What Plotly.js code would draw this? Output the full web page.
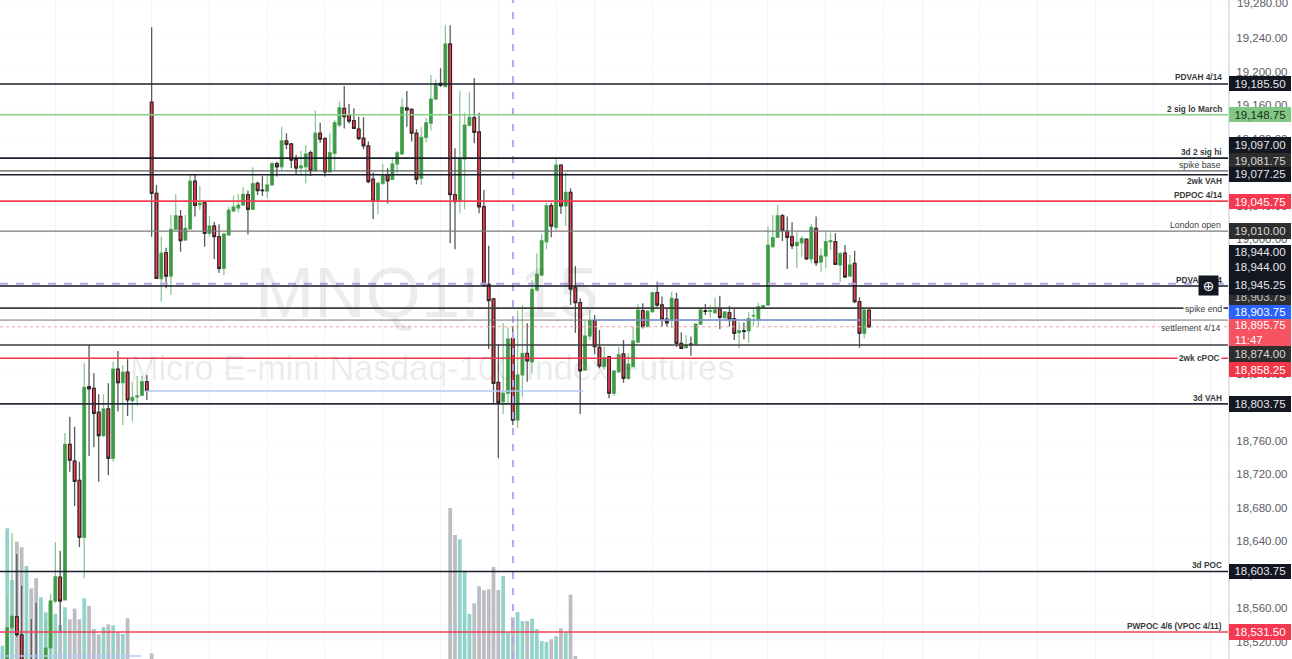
<!DOCTYPE html>
<html><head><meta charset="utf-8">
<script src="https://cdn.plot.ly/plotly-3.0.1.min.js"></script>
<style>html,body{margin:0;padding:0;background:#fff}#chart{width:1292px;height:659px}</style>
</head><body><div id="chart"></div>
<script>
const opens=[18474,18536.5,18549.75,18528,18474,18492,18485,18460,18480,18512.5,
18568.5,18597,18569.75,18755.5,18735.5,18712.5,18644.5,18824.25,18822.25,18793.75,
18765.75,18797.75,18738.75,18845.25,18829,18841.5,18807.5,18812,18814,18830.25,
19163.75,19055,18953.25,18984.25,18956.25,19012,19027.5,18999.25,19012.5,19069.5,
19041.5,19043.75,19007.25,19016,19003.25,18965.5,19005.25,19034,19037.5,19041,
19053.5,19036,19067,19058.75,19057.75,19065,19090.5,19086.75,19117.5,19114,
19095.25,19085.5,19086.75,19103.5,19082,19126.75,19120.25,19080.75,19102.75,19136.5,
19156.5,19148.25,19141.75,19131.75,19120.75,19111.5,19072,19045.75,19067,19077,
19071.75,19090,19102,19157,19155.25,19126.75,19073,19121.75,19138.75,19167.5,
19186.25,19182.25,19233.25,19053.5,19046.25,19096,19136.25,19145.25,19128.25,19039,
18946.5,18929,18829.5,18806.25,18816.5,18882,18784.5,18838.25,18864,18854,
18939.75,18957.5,18997.25,19040.25,19014.5,19088.75,19040,19056.25,18942.5,18924.5,
18844.25,18884.75,18903,18871.25,18848.25,18860,18816.5,18842,18863.25,18834.25,
18848.25,18877.5,18915,18896,18913.75,18936.5,18921.75,18905,18903.75,18928.5,
18876,18870.75,18875,18874.75,18898.75,18914.75,18914.25,18912.5,18917.25,18906.5,
18912.5,18905.5,18888.75,18891,18890.75,18908.5,18904.75,18918.25,18921.75,18991.25,
19002.5,19028.25,19010,19003.25,18992.5,18996,19000.25,18976.75,19013.25,18973,
18980.25,18997.25,18997.25,18969.5,18983.75,18956.25,18971.5,18925.75,18888,18915.5];
const highs=[18572,18649.5,18624.5,18586.75,18506.5,18547,18566.5,18495,18545,18577,
18638.5,18628.5,18769,18788.5,18776.5,18734.75,18852.25,18874,18840.25,18815.25,
18815.25,18828.25,18854,18866.75,18850,18857,18830.25,18837,18837,18838.25,
19253.25,19065,19003.25,18990,19029.25,19054.25,19035,19029.25,19078,19078,
19064,19045,19028,19021,19018,19007,19039,19052.25,19054.25,19062.25,
19058.25,19086,19069,19075.75,19077,19092.75,19092.75,19134.5,19126.75,19115.5,
19100.75,19105.5,19112.75,19106,19153.75,19139.25,19122.25,19126.75,19142.5,19164.5,
19183,19161.75,19156.5,19146.5,19145.75,19116.75,19079.75,19069,19090,19085,
19096.75,19105.5,19168.5,19177.25,19156.5,19131.5,19133.75,19145,19196.25,19191,
19204.25,19256.25,19255.5,19108.75,19177.5,19151.25,19176.25,19192.25,19151.25,19059,
18992.5,18930,18874.75,18900,18895.25,18897,18915,18921.75,18900,18951.5,
18983.5,19006.5,19043.75,19043.75,19095.75,19089.5,19079.75,19061,18968.25,18929.75,
18902.75,18915.75,18909.75,18892,18872,18860.75,18844.25,18872,18880,18864,
18896,18922.5,18923.75,18915.75,18937.5,18949.5,18931.75,18917.75,18937.5,18936.5,
18889.25,18886,18884,18899.5,18917.75,18923,18921.75,18930.5,18932.75,18914,
18920.5,18917.75,18901.75,18901,18913.75,18917.75,18924.5,18922,19015.25,19029.25,
19041,19030.25,19027.25,19020.5,19008.5,19004,19001,19018.5,19027.25,18989.5,
19008.5,19008,19007.25,18985,18993.25,18981.5,18986.5,18931,18917,18916.5];
const lows=[18450,18531.5,18525.5,18462.25,18462,18462,18450,18440,18470,18498,
18566,18532,18569,18722.75,18682,18633,18595.5,18741.5,18752,18710.75,
18764.25,18718.75,18734.75,18794.5,18778.5,18789.25,18782.5,18801.5,18813,18808.5,
19003.25,18952.75,18925.75,18941.75,18933.75,19011.25,18985.25,18998,19011.5,19027.25,
19035,18991.25,19003.25,18976.25,18960.25,18957.5,19004.75,19032,19032,19040.5,
19006,19035,19053,19051.75,19049,19064,19075,19083,19107.5,19085,
19077,19078,19067,19075.75,19081.5,19115.5,19075,19080,19083,19133.75,
19132.5,19138.5,19131.75,19118.75,19107.5,19067,19024.5,19030.25,19065,19043,
19071,19079,19100.75,19134.5,19116.75,19066,19065,19115.5,19129.75,19166.5,
19182.25,19182,18995.5,18988.25,19031.25,19036,19134.75,19114.75,19031.25,18944.5,
18869.25,18804.5,18738.75,18791.25,18804.5,18778.5,18774.5,18812.25,18830.25,18840.25,
18937.5,18956.25,18988.25,19002.5,19011.25,19030.25,19016,18921.75,18888.75,18791.75,
18843,18880,18863.25,18846.25,18844.25,18810.5,18813.5,18840.5,18829,18832.25,
18847.75,18876.5,18893.75,18895.5,18912.5,18919.75,18896,18896,18894.25,18871.5,
18869.25,18869.75,18861.25,18874,18897.75,18909.75,18906.5,18911.75,18892.75,18905.5,
18896,18880,18870,18880.75,18876.75,18896.75,18896,18917.5,18920.5,18991,
19001.75,18998,18964.75,18988.5,18965.5,18979.5,18975.5,18971.5,18968.25,18961.5,
18965.5,18987.25,18969.5,18949.5,18954,18955.25,18923.75,18870.75,18882,18894.5];
const closes=[18536.5,18550.5,18528.25,18486,18492,18474,18460,18480,18512.5,18568.5,
18597.5,18568.5,18755.5,18736.5,18711.25,18644.5,18823.5,18821.75,18792.5,18765.75,
18797.75,18738.75,18845.25,18829,18841.5,18808.5,18811.5,18813.25,18830.25,18819.5,
19055,18953.5,18983.5,18956.25,19012,19028.25,18998.5,19013.25,19069.5,19040.75,
19043,19007.25,19016,19003.25,18965.5,19006.5,19035,19038.75,19041,19053.75,
19036,19066.5,19058.25,19058.25,19065,19090.5,19086.75,19117.75,19113.5,19094.75,
19085.25,19087.75,19102,19082,19126.75,19119.75,19080.75,19103.5,19139.25,19157.25,
19146.5,19141.25,19132.5,19120.25,19111.75,19069,19045.75,19067,19076,19070,
19090,19103.5,19157.75,19154.5,19126.75,19071.75,19121.75,19139.25,19167.5,19185.5,
19184,19233.25,19053.5,19045,19096,19136.25,19145.75,19127.75,19039,18945.5,
18927,18828.25,18805.5,18816.5,18881.25,18784.5,18838.25,18864,18855,18940.5,
18958.5,18998.5,19040.25,19016,19088.75,19040,19056.25,18940.75,18924.5,18843.25,
18884.75,18903,18872,18849,18858.75,18816.5,18843,18862.5,18834.25,18851.25,
18878.75,18915.5,18896,18914.25,18936.5,18921.75,18904.75,18900.5,18929.75,18876,
18870,18874,18874.75,18899,18915.75,18914.25,18915,18915.75,18907,18913.5,
18904.75,18888,18891,18890.25,18905.5,18909,18919.75,18921,18993.25,19002,
19028.25,19010.5,19002.5,18992.5,18996.5,19001,18976.75,19014.5,18972.25,18980.25,
18997.25,18998.5,18970.25,18983,18955.25,18969.5,18925.75,18888,18915.75,18895.75];

// volume for bars -1..30 and for bars 92..118
const volumesEarly=[1330,13070,7900,11730,11170,9300,7070,8070,6170,4670,5400,4500,3400,5170,3970,5030,3970,6070,5300,3000,2470,3200,3470,3370,2670,2500,4070,0,0,0,0,570];
const volumesLate=[15100,12400,11970,8830,4500,5570,7270,6870,6970,9200,6900,8300,2670,4170,4700,3800,3800,4030,3000,1800,1700,1970,2270,3070,2630,6430,300];

// level lines: price, colour, width
const levelPrices=[19185.5,19148.75,19097,19081.75,19077.25,19045.75,19010,18944.5,18918,18903.75,18874,18858.25,18803.75,18603.75,18531.5];
const levelColors=['#1b1f2a','#86cf8c','#1b1f2a','#5e5e5e','#1b1f2a','#f23f52','#7a7a7a','#131722','#3e3e3e','#777777','#3e3e3e','#f2364a','#2a2e38','#1b1f2a','#f2405a'];
const levelWidths=[1.6,1.5,1.6,1.3,1.6,1.6,1.2,1.6,1.6,1,1.6,1.6,1.6,1.6,1.6];

// tag text, centre row, height, background, text colour (order = paint order)
const tagTexts=['19,185.50','19,148.75','19,097.00','19,081.75','19,077.25','19,045.75','19,010.00','18,944.00','18,944.00','18,903.75','18,945.25','18,903.75','18,895.75<br>11:47\u00A0\u00A0\u00A0\u00A0\u00A0\u00A0\u00A0','18,874.00','18,858.25','18,803.75','18,603.75','18,531.50'];
const tagRows=[84,114.7,145.3,160.5,175,201.5,231,252,267,297,285,312,332.5,354,369,404,571,632];
const tagHeights=[15,15,15.5,15,14.5,15,15.5,14.5,16,20,20,14,27,15.5,15,15.5,14.5,16];
const tagFills=['#131722','#81c784','#131722','#2e2e2e','#131722','#f7374f','#2e2e2e','#131722','#131722','#2e2e2e','#131722','#2962ff','#f7525f','#2e2e2e','#f23645','#131722','#131722','#f7374f'];
const tagInks=['#e6e6e6','#1c2b1d','#e6e6e6','#d8d8d8','#e6e6e6','#ffffff','#d8d8d8','#e6e6e6','#e6e6e6','#c8c8c8','#e6e6e6','#ffffff','#ffffff','#d8d8d8','#ffffff','#e6e6e6','#e6e6e6','#ffffff'];

// line captions
const captionTexts=['PDVAH 4/14','2 sig lo March','3d 2 sig hi','spike base','2wk VAH','PDPOC 4/14','London open','PDVAL 4/14','spike end','settlement 4/14','2wk cPOC','3d VAH','3d POC','PWPOC 4/6 (VPOC 4/11)'];
const captionRows=[77.5,108.5,152,164.5,180.5,195,225,280,309,327.5,358,397.5,565,626];
const captionBold=[1,1,1,0,1,1,0,1,0,0,1,1,1,1];
const captionRight=[1224,1224,1224,1223,1224,1224,1223,1224,1224,1223,1222,1224,1224,1224];
const captionMasked=[0,0,0,0,0,0,0,0,1,1,1,0,0,0];

const priceTop=19285.75, priceBottom=18499.25;
const plotW=1228, plotH=659;
const barStep=4.815, barOrigin=7.2;
const xMin=(0-barOrigin)/barStep, xMax=(plotW-barOrigin)/barStep;
const px=v=>v/plotW, py=v=>1-v/plotH;
const idx=opens.map((_,i)=>i);
const upIdx=idx.filter(i=>closes[i]>=opens[i]);
const dnIdx=idx.filter(i=>closes[i]<opens[i]);

function candle(ids,full,lineColor,fill,w){
  const style={line:{color:lineColor,width:w},fillcolor:fill};
  return {type:'candlestick',xaxis:'x',yaxis:'y2',x:ids,
    open:ids.map(i=>opens[i]),close:ids.map(i=>closes[i]),
    high:ids.map(i=>full?highs[i]:Math.max(opens[i],closes[i])),
    low:ids.map(i=>full?lows[i]:Math.min(opens[i],closes[i])),
    whiskerwidth:0,increasing:style,decreasing:style,showlegend:false,hoverinfo:'skip'};
}
const isUp=i=>i<0||closes[i]===undefined||closes[i]>=opens[i];
const volX=volumesEarly.map((_,k)=>k-1).concat(volumesLate.map((_,k)=>k+92));
const volY=volumesEarly.concat(volumesLate);
const volume={type:'bar',x:volX,y:volY,width:0.78,yaxis:'y',xaxis:'x',hoverinfo:'skip',showlegend:false,
  marker:{color:volX.map(i=>isUp(i)?'#92d3cb':'#bcbdc2'),line:{width:0}}};

const traces=[volume,
  candle(upIdx,true,'#8ec795','#3f9a46',1.3),
  candle(upIdx,false,'#3f9a46','#3f9a46',0.6),
  candle(dnIdx,true,'#5a5a5a','#f23f52',1.3),
  candle(dnIdx,false,'#1c1c1c','#f23f52',0.9)];

const hline=(p,color,width,dash)=>({type:'line',xref:'paper',x0:0,x1:1,yref:'y2',y0:p,y1:p,layer:'above',line:{color,width,dash:dash||'solid'}});
const shapes=[
  {type:'line',xref:'x',x0:105.05,x1:105.05,yref:'paper',y0:0,y1:1,layer:'above',line:{color:'#b9a7e4',width:2,dash:'7px,9px'}},
  hline(18947,'#b9a7e4',2,'8px,8px'),
  hline(18895.75,'#f2a0a8',1,'dot'),
  {type:'line',xref:'x',x0:-1.5,x1:27.8,yref:'y2',y0:18502.75,y1:18502.75,layer:'above',line:{color:'#b4c8f5',width:1.5}},
  {type:'line',xref:'x',x0:28.8,x1:119.6,yref:'y2',y0:18819.25,y1:18819.25,layer:'above',line:{color:'#b4c8f5',width:1.5}}
];
levelPrices.forEach((p,k)=>shapes.push(hline(p,levelColors[k],levelWidths[k])));
shapes.push({type:'line',xref:'x',x0:122,x1:177.1,yref:'y2',y0:18903.75,y1:18903.75,layer:'above',line:{color:'#7f97d6',width:1.5}});

const annotations=[
  {text:'MNQ1!, 15',xref:'paper',yref:'paper',x:px(426),y:py(293),showarrow:false,font:{family:'Liberation Sans',size:71,color:'rgba(40,45,60,0.09)'}},
  {text:'Micro E-mini Nasdaq-100 Index Futures',xref:'paper',yref:'paper',x:px(432),y:py(367.5),showarrow:false,font:{family:'Liberation Sans',size:34.2,color:'rgba(40,45,60,0.09)'}},
  {text:'19,280.00',xref:'paper',yref:'paper',x:px(1235.5),y:py(3.5),xanchor:'left',yanchor:'middle',showarrow:false,borderpad:0,font:{family:'Liberation Sans',size:11.5,color:'#5a5d66'}}
];
captionTexts.forEach((t,k)=>annotations.push({
  text:captionBold[k]?'<b>'+t+'</b>':t,xref:'paper',yref:'paper',x:px(captionRight[k]),y:py(captionRows[k]),
  xanchor:'right',yanchor:'middle',showarrow:false,borderpad:1,bgcolor:captionMasked[k]?'#ffffff':'rgba(0,0,0,0)',
  font:{family:'Liberation Sans',size:captionBold[k]?8.3:8.7,color:'#3a3a3a'}}));
tagTexts.forEach((t,k)=>annotations.push({
  text:t,xref:'paper',yref:'paper',x:px(1228.5),y:py(tagRows[k]),xanchor:'left',yanchor:'middle',
  width:62,height:tagHeights[k],borderpad:0,borderwidth:0,showarrow:false,align:'center',bgcolor:tagFills[k],
  font:{family:'Liberation Sans',size:11.5,color:tagInks[k]}}));
annotations.push({text:'⊕',xref:'paper',yref:'paper',x:px(1218.5),y:py(285.3),width:19,height:19,borderpad:0,showarrow:false,bgcolor:'#131722',
  font:{family:'DejaVu Sans',size:14,color:'#ffffff'}});

const layout={
  width:1292,height:659,margin:{l:0,r:64,t:0,b:0,pad:0},
  paper_bgcolor:'#ffffff',plot_bgcolor:'#ffffff',showlegend:false,dragmode:false,
  boxmode:'overlay',boxgap:0.22,barmode:'overlay',
  font:{family:'Liberation Sans'},
  xaxis:{range:[xMin,xMax],rangeslider:{visible:false},showgrid:true,gridcolor:'#f2f2f4',gridwidth:1,
    tickmode:'array',tickvals:[10,22,30,42,54,66,78,90,102,114,122,134,146,158,170,182,190,202,214,226,238,250],
    showticklabels:false,ticks:'',zeroline:false,showline:false,fixedrange:true},
  yaxis:{range:[0,65900],visible:false,fixedrange:true,domain:[0,1]},
  yaxis2:{overlaying:'y',side:'right',range:[priceBottom,priceTop],tick0:0,dtick:40,tickformat:',.2f',
    ticks:'',ticklabelstandoff:4,ticklabelshift:-1.5,showgrid:true,gridcolor:'#fafafa',zeroline:false,
    showline:true,linecolor:'#e2e3e8',linewidth:2,fixedrange:true,automargin:false,
    tickfont:{family:'Liberation Sans',size:11.5,color:'#5a5d66'}},
  shapes,annotations
};
Plotly.newPlot('chart',traces,layout,{displayModeBar:false,staticPlot:true});
</script></body></html>
